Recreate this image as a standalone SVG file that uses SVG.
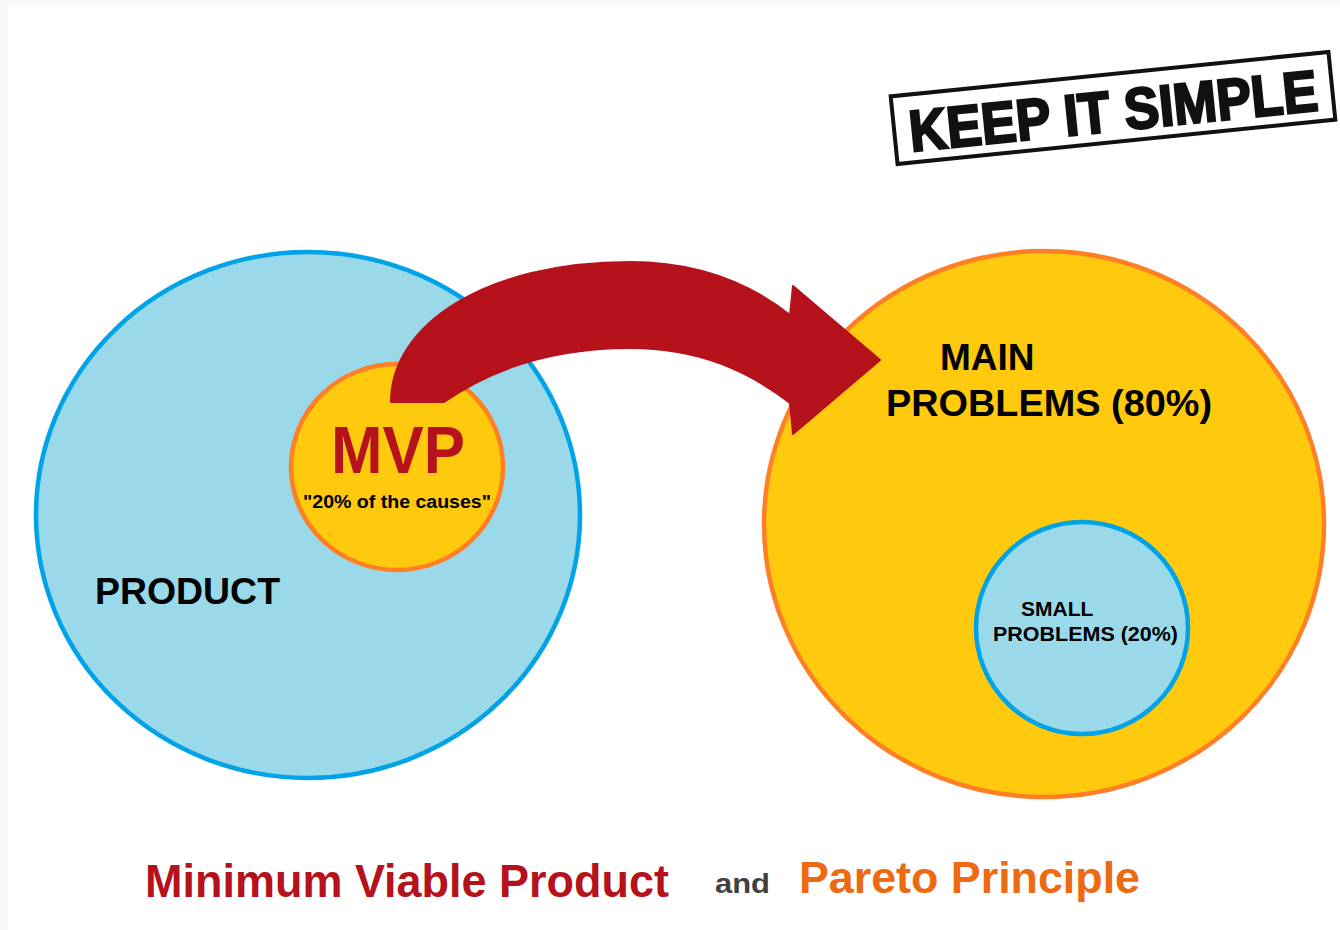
<svg xmlns="http://www.w3.org/2000/svg" width="1340" height="930" viewBox="0 0 1340 930">
<style>
.blue{fill:#99d9ea;stroke:#00a2e8;stroke-width:4.5}
.gold{fill:#ffc90e;stroke:#ff7f27;stroke-width:4.5}
.t{font-family:"Liberation Sans",Arial,sans-serif;font-weight:bold}
</style>
<rect x="0" y="0" width="1340" height="930" fill="#f8f8f8"/>
<rect x="8" y="5" width="1332" height="925" fill="#ffffff"/>
<g id="product">
<ellipse class="blue" cx="308" cy="515" rx="272" ry="263"/>
<text class="t" x="95" y="604" font-size="36" fill="#000" textLength="185" lengthAdjust="spacingAndGlyphs">PRODUCT</text>
</g>
<g id="main-problems">
<ellipse class="gold" cx="1044" cy="524" rx="280" ry="273"/>
<text class="t" x="940" y="370" font-size="37" fill="#000">MAIN</text>
<text class="t" x="886" y="416" font-size="37" fill="#000" textLength="326" lengthAdjust="spacingAndGlyphs">PROBLEMS (80%)</text>
</g>
<g id="small-problems">
<ellipse class="blue" cx="1082" cy="628" rx="106" ry="106"/>
<text class="t" x="1021" y="616" font-size="21" fill="#000">SMALL</text>
<text class="t" x="993" y="641" font-size="21" fill="#000" textLength="185" lengthAdjust="spacingAndGlyphs">PROBLEMS (20%)</text>
</g>
<g id="mvp">
<ellipse class="gold" cx="397" cy="467" rx="106" ry="103"/>
</g>
<g id="connectors">
<path d="M391,402 C391,325 485,262 630,262 C700,262 752,285 790,315 L793,286 L880,360 L793,434 L790,403 C750,372 700,348 630,348 C550,348 490,370 444,402 Z" fill="#b5121b" stroke="#b5121b" stroke-width="2" stroke-linejoin="round"/>
</g>
<g id="mvp-label">
<text class="t" x="398" y="473" font-size="66" fill="#b5121b" text-anchor="middle" textLength="134" lengthAdjust="spacingAndGlyphs">MVP</text>
<text class="t" x="397" y="508" font-size="18" fill="#000" text-anchor="middle" textLength="188" lengthAdjust="spacingAndGlyphs">"20% of the causes"</text>
</g>
<g id="keep-it-simple" transform="translate(1113,108) rotate(-5.8)">
<rect x="-220" y="-34" width="440" height="68" fill="#fff" stroke="#111" stroke-width="4"/>
<text class="t" x="0" y="23" font-size="58" fill="#111" stroke="#111" stroke-width="2.5" text-anchor="middle" textLength="410" lengthAdjust="spacingAndGlyphs">KEEP IT SIMPLE</text>
</g>
<g id="title">
<text class="t" x="145" y="897" font-size="47" fill="#b5121b" textLength="524" lengthAdjust="spacingAndGlyphs">Minimum Viable Product</text>
<text class="t" x="715" y="893" font-size="27" fill="#404040" textLength="55" lengthAdjust="spacingAndGlyphs">and</text>
<text class="t" x="799" y="893" font-size="45" fill="#ee6a10" textLength="341" lengthAdjust="spacingAndGlyphs">Pareto Principle</text>
</g>
</svg>
